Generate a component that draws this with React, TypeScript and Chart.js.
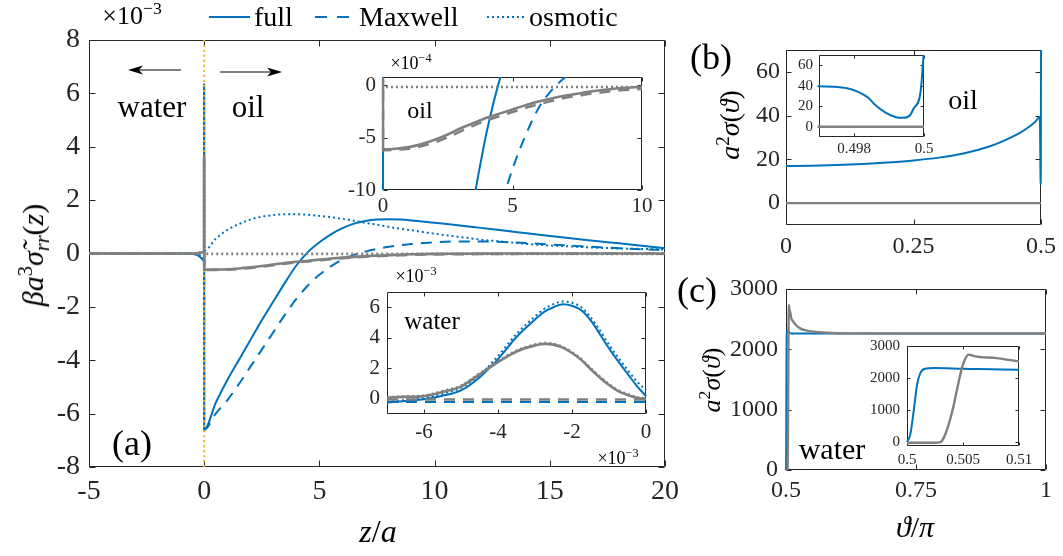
import React, { useEffect, useRef } from "react";
import { Chart, registerables } from "chart.js";

Chart.register(...registerables);

const SERIF = '"Liberation Serif", "Times New Roman", serif';
const BLUE = "#0072BD";
const GRAY = "#808080";
const ORANGE = "#EDB120";
const AXIS = "#262626";
const TEXT = "#000000";
const DASHED = [11, 8];
const DOTTED = [2, 3];

// ---------------- panel (a): z/a, values in units of 1e-3 ----------------
const aXTicks = [-5, 0, 5, 10, 15, 20];
const aYTicks = [-8, -6, -4, -2, 0, 2, 4, 6, 8];
const aXRange = [-5, 20];
const aYRange = [-8, 8];
const interfaceZ = [0, 0];

// water side far from the interface (z/a)
const farWaterZ = [-5, -1, -0.5, -0.3, -0.15, -0.05];
const farWaterFull = [0, 0, -0.02, -0.06, -0.15, -0.25];
const farWaterMaxwell = [0, 0, -0.02, -0.05, -0.12, -0.2];
const farWaterOsmotic = [0, 0, -0.01, -0.03, -0.08, -0.15];
const farWaterGrayFull = [0, 0, 0, 0.01, 0.03, 0.05];
const farWaterGrayMaxwell = [0, 0, 0, -0.01, -0.03, -0.04];
const farWaterGrayOsmotic = [0, 0, 0, 0.02, 0.05, 0.08];

// water side close to the interface, z/a in units of 1e-3
const WATER_Z_UNIT = 1e-3;
const waterZ = [-7, -6.5, -6, -5.5, -5, -4.5, -4, -3.5, -3, -2.75, -2.5, -2.25, -2, -1.75, -1.5, -1.25, -1, -0.75, -0.5, -0.25, 0];
const waterFull = [-0.26, -0.15, -0.04, 0.2, 0.55, 1.4, 2.6, 4.05, 5.2, 5.7, 6.0, 6.2, 6.1, 5.8, 5.15, 4.25, 3.3, 2.45, 1.65, 0.85, 0.17];
const waterMaxwell = [-0.22, -0.22, -0.22, -0.22, -0.22, -0.22, -0.22, -0.22, -0.22, -0.22, -0.22, -0.22, -0.22, -0.22, -0.22, -0.22, -0.22, -0.22, -0.22, -0.22, -0.22];
const waterOsmotic = [-0.2, -0.08, 0.05, 0.32, 0.72, 1.55, 2.8, 4.25, 5.4, 5.9, 6.2, 6.38, 6.3, 6.0, 5.35, 4.5, 3.55, 2.7, 1.9, 1.15, 0.55];
const waterGrayFull = [0.07, 0.12, 0.17, 0.45, 0.8, 1.6, 2.4, 3.1, 3.5, 3.6, 3.55, 3.35, 3.0, 2.55, 1.95, 1.4, 0.9, 0.5, 0.25, 0.07, 0.0];
const waterGrayMaxwell = [-0.05, -0.05, -0.05, -0.05, -0.05, -0.05, -0.05, -0.05, -0.05, -0.05, -0.05, -0.05, -0.05, -0.05, -0.05, -0.05, -0.05, -0.05, -0.05, -0.05, -0.05];
const waterGrayOsmotic = [0.1, 0.15, 0.2, 0.5, 0.85, 1.65, 2.45, 3.15, 3.55, 3.65, 3.6, 3.4, 3.05, 2.6, 2.0, 1.45, 0.95, 0.55, 0.3, 0.1, 0.02];

// oil side (z/a)
const oilZ = [0, 0.5, 1, 1.5, 2, 2.5, 3, 3.5, 4, 4.5, 5, 5.5, 6, 6.5, 7, 7.5, 8, 8.5, 9, 10, 11, 12, 13, 14, 15, 16, 17, 18, 19, 20];
const oilFull = [-6.6, -5.6, -4.75, -4.0, -3.25, -2.5, -1.8, -1.1, -0.45, 0.05, 0.42, 0.72, 0.95, 1.12, 1.22, 1.27, 1.28, 1.27, 1.24, 1.15, 1.06, 0.96, 0.86, 0.76, 0.66, 0.56, 0.47, 0.38, 0.29, 0.2];
const oilMaxwell = [-6.6, -6.0, -5.5, -4.9, -4.25, -3.6, -2.95, -2.3, -1.7, -1.2, -0.8, -0.48, -0.22, -0.05, 0.07, 0.17, 0.25, 0.31, 0.36, 0.42, 0.45, 0.45, 0.43, 0.39, 0.34, 0.29, 0.24, 0.2, 0.16, 0.13];
const oilOsmotic = [0.1, 0.55, 0.88, 1.1, 1.27, 1.38, 1.44, 1.47, 1.47, 1.45, 1.41, 1.36, 1.3, 1.23, 1.15, 1.08, 1.0, 0.93, 0.87, 0.74, 0.63, 0.52, 0.44, 0.36, 0.3, 0.26, 0.22, 0.19, 0.17, 0.15];
const oilGrayFull = [-0.61, -0.605, -0.59, -0.56, -0.52, -0.47, -0.41, -0.36, -0.31, -0.27, -0.23, -0.19, -0.155, -0.125, -0.1, -0.08, -0.06, -0.045, -0.03, -0.015, -0.01, -0.005, 0, 0, 0, 0, 0, 0, 0, 0];
const oilGrayMaxwell = [-0.62, -0.615, -0.605, -0.58, -0.545, -0.495, -0.44, -0.385, -0.335, -0.295, -0.255, -0.215, -0.18, -0.15, -0.12, -0.1, -0.08, -0.065, -0.05, -0.035, -0.025, -0.02, -0.015, -0.01, -0.01, -0.005, 0, 0, 0, 0];
const oilGrayOsmotic = [-0.015, -0.015, -0.015, -0.015, -0.015, -0.015, -0.015, -0.015, -0.015, -0.015, -0.015, -0.015, -0.015, -0.015, -0.015, -0.015, -0.015, -0.015, -0.015, -0.015, -0.015, -0.015, -0.015, -0.015, -0.015, -0.015, -0.015, -0.015, -0.015, -0.015];

// oil inset: units of 1e-4
const OIL_INSET_SCALE = 10;
const oilInsetXTicks = [0, 5, 10];
const oilInsetYTicks = [-10, -5, 0];
const oilInsetXRange = [0, 10];
const oilInsetYRange = [-10, 0.8];

// water inset: x in 1e-3, y in 1e-3
const waterInsetXTicks = [-6, -4, -2, 0];
const waterInsetYTicks = [0, 2, 4, 6];
const waterInsetXRange = [-7, 0];
const waterInsetYRange = [-1, 7];

const legendLabels = ["full", "Maxwell", "osmotic"];

// ---------------- panel (b): oil, a^2 sigma(theta) ----------------
const bTheta = [0, 0.05, 0.1, 0.15, 0.2, 0.25, 0.3, 0.35, 0.4, 0.43, 0.46, 0.48, 0.49, 0.497, 0.4974, 0.4978, 0.4981, 0.4984, 0.4986, 0.4989, 0.4992, 0.4994, 0.4996, 0.4997, 0.4999, 0.5];
const bFull = [17.0, 17.1, 17.4, 17.9, 18.6, 19.5, 20.8, 22.8, 26, 28.8, 32.3, 35.5, 37.5, 39.5, 39.1, 37.5, 34.3, 28.5, 21.5, 13.8, 9.3, 8.7, 11.2, 17.6, 33.7, 75];
const bGrayTheta = [0, 0.25, 0.5];
const bGray = [0, 0, 0];
const bXTicks = [0, 0.25, 0.5];
const bYTicks = [0, 20, 40, 60];
const bXRange = [0, 0.5];
const bYRange = [-10, 70];
const bInsetXTicks = [0.498, 0.5];
const bInsetYTicks = [0, 20, 40, 60];
const bInsetXRange = [0.497, 0.5];
const bInsetYRange = [-10, 70];

// ---------------- panel (c): water, a^2 sigma(theta) ----------------
const cTheta = [0.5, 0.5003, 0.5006, 0.5009, 0.5012, 0.5016, 0.5024, 0.505, 0.51, 0.55, 0.6, 0.75, 1];
const cFull = [0, 250, 980, 1800, 2160, 2290, 2312, 2292, 2262, 2262, 2262, 2262, 2262];
const cGrayTheta = [0.5, 0.5025, 0.503, 0.5033, 0.5036, 0.5039, 0.5042, 0.5045, 0.5049, 0.5052, 0.5055, 0.5058, 0.506, 0.508, 0.51, 0.514, 0.52, 0.527, 0.54, 0.552, 0.58, 0.616, 0.75, 1];
const cGray = [-20, -20, 0, 150, 420, 770, 1200, 1700, 2310, 2600, 2730, 2710, 2685, 2620, 2520, 2460, 2395, 2348, 2310, 2293, 2275, 2265, 2262, 2262];
const cXTicks = [0.5, 0.75, 1];
const cYTicks = [0, 1000, 2000, 3000];
const cXRange = [0.5, 1];
const cYRange = [0, 3000];
const cInsetXTicks = [0.5, 0.505, 0.51];
const cInsetYTicks = [0, 1000, 2000, 3000];
const cInsetXRange = [0.5, 0.51];
const cInsetYRange = [-120, 3000];

// ---------------- helpers ----------------
type P = { x: number; y: number };
const pts = (xs: number[], ys: number[], xs_ = 1, ys_ = 1): P[] =>
  xs.map((x, i) => ({ x: x * xs_, y: ys[i] * ys_ }));

const joined = (far: number[], water: number[], oil: number[], ys = 1): P[] => [
  ...pts(farWaterZ, far, 1, ys),
  ...pts(waterZ, water, WATER_Z_UNIT, ys),
  ...pts(oilZ, oil, 1, ys),
];

const line = (label: string, data: P[], color: string, width: number, dash: number[], order: number) => ({
  label,
  data,
  borderColor: color,
  backgroundColor: color,
  borderWidth: width,
  borderDash: dash,
  borderCapStyle: "butt",
  borderJoinStyle: "round",
  pointRadius: 0,
  fill: false,
  cubicInterpolationMode: "monotone",
  clip: { left: 1.5, right: 1.5, top: 0, bottom: 0 },
  order,
});

const sixSeries = (full: P[], max: P[], osm: P[], gFull: P[], gMax: P[], gOsm: P[], bw = 2, gw = 2.6) => [
  line("full", full, BLUE, bw, [], 5),
  line("Maxwell", max, BLUE, bw, DASHED, 6),
  line("osmotic", osm, BLUE, bw, DOTTED, 7),
  line("full (gray)", gFull, GRAY, gw, [], 1),
  line("Maxwell (gray)", gMax, GRAY, gw, DASHED, 2),
  line("osmotic (gray)", gOsm, GRAY, gw, DOTTED, 3),
];

const framePlugin = (tickLen: number) => ({
  id: "frame",
  beforeDatasetsDraw(chart: any) {
    const { ctx, chartArea: a, scales } = chart;
    ctx.save();
    ctx.fillStyle = "#ffffff";
    ctx.fillRect(a.left, a.top, a.right - a.left, a.bottom - a.top);
    const L = Math.round(a.left) + 0.5, R = Math.round(a.right) - 0.5;
    const T = Math.round(a.top) + 0.5, B = Math.round(a.bottom) - 0.5;
    ctx.strokeStyle = AXIS;
    ctx.lineWidth = 1;
    ctx.setLineDash([]);
    ctx.beginPath();
    ctx.rect(L, T, R - L, B - T);
    scales.x.ticks.forEach((t: any) => {
      const px = Math.round(scales.x.getPixelForValue(t.value)) + 0.5;
      ctx.moveTo(px, B); ctx.lineTo(px, B - tickLen);
      ctx.moveTo(px, T); ctx.lineTo(px, T + tickLen);
    });
    scales.y.ticks.forEach((t: any) => {
      const py = Math.round(scales.y.getPixelForValue(t.value)) + 0.5;
      ctx.moveTo(L, py); ctx.lineTo(L + tickLen, py);
      ctx.moveTo(R, py); ctx.lineTo(R - tickLen, py);
    });
    ctx.stroke();
    ctx.restore();
  },
});

const arrow = (ctx: CanvasRenderingContext2D, x0: number, y0: number, x1: number, y1: number) => {
  const dir = Math.sign(x1 - x0);
  ctx.beginPath();
  ctx.moveTo(x0, y0);
  ctx.lineTo(x1 - dir * 8, y1);
  ctx.stroke();
  ctx.beginPath();
  ctx.moveTo(x1, y1);
  ctx.lineTo(x1 - dir * 15, y1 - 4.5);
  ctx.lineTo(x1 - dir * 11, y1);
  ctx.lineTo(x1 - dir * 15, y1 + 4.5);
  ctx.closePath();
  ctx.fill();
};

const mainDecor = {
  id: "mainDecor",
  afterDraw(chart: any) {
    const ctx: CanvasRenderingContext2D = chart.ctx;
    ctx.save();
    ctx.strokeStyle = TEXT;
    ctx.fillStyle = TEXT;
    ctx.lineWidth = 1.2;
    arrow(ctx, 181, 70, 128, 70);
    arrow(ctx, 220, 72, 282, 72);
    // legend
    const styles = [
      { dash: [] as number[], x0: 209, x1: 250, tx: 254 },
      { dash: [12, 10], x0: 315, x1: 349, tx: 359 },
      { dash: DOTTED, x0: 487, x1: 526, tx: 529 },
    ];
    styles.forEach((s, i) => {
      ctx.strokeStyle = BLUE;
      ctx.lineWidth = 2;
      ctx.setLineDash(s.dash);
      ctx.beginPath();
      ctx.moveTo(s.x0, 17);
      ctx.lineTo(s.x1, 17);
      ctx.stroke();
      ctx.setLineDash([]);
      ctx.fillStyle = TEXT;
      ctx.font = `28px ${SERIF}`;
      ctx.textBaseline = "alphabetic";
      ctx.textAlign = "left";
      ctx.fillText(legendLabels[i], s.tx, 26);
    });
    ctx.restore();
  },
};

type Spec = {
  left: number; top: number; width: number; height: number;
  area: { l: number; t: number; r: number; b: number };
  datasets: any[];
  xRange: number[]; yRange: number[];
  xTicks: number[]; yTicks: number[];
  tickSize: number; xPad: number; yPad: number; tickLen: number;
  extra?: any;
};

function buildConfig(s: Spec): any {
  const padTop = s.area.t - s.top;
  const padRight = s.left + s.width - s.area.r;
  const yWidth = s.area.l - s.left;
  const xHeight = s.top + s.height - s.area.b;
  const font = { family: SERIF, size: s.tickSize };
  return {
    type: "line",
    data: { datasets: s.datasets },
    options: {
      animation: false,
      responsive: false,
      maintainAspectRatio: false,
      devicePixelRatio: 1,
      events: [],
      layout: { padding: { top: padTop, right: padRight, left: 0, bottom: 0 }, autoPadding: false },
      plugins: { legend: { display: false }, tooltip: { enabled: false }, title: { display: false } },
      scales: {
        x: {
          type: "linear",
          position: "bottom",
          min: s.xRange[0],
          max: s.xRange[1],
          grid: { display: false, drawTicks: false, tickLength: 0 },
          border: { display: false },
          ticks: { font, color: AXIS, padding: s.xPad, maxRotation: 0, autoSkip: false, callback: (v: any) => String(v) },
          afterBuildTicks: (sc: any) => { sc.ticks = s.xTicks.map((v) => ({ value: v })); },
          afterFit: (sc: any) => { sc.height = xHeight; },
        },
        y: {
          type: "linear",
          position: "left",
          min: s.yRange[0],
          max: s.yRange[1],
          grid: { display: false, drawTicks: false, tickLength: 0 },
          border: { display: false },
          ticks: { font, color: AXIS, padding: s.yPad, autoSkip: false, callback: (v: any) => String(v) },
          afterBuildTicks: (sc: any) => { sc.ticks = s.yTicks.map((v) => ({ value: v })); },
          afterFit: (sc: any) => { sc.width = yWidth; },
        },
      },
    },
    plugins: [framePlugin(s.tickLen), ...(s.extra ? [s.extra] : [])],
  };
}

function ChartBox({ spec }: { spec: Spec }) {
  const ref = useRef<HTMLCanvasElement>(null);
  useEffect(() => {
    const chart = new Chart(ref.current as HTMLCanvasElement, buildConfig(spec));
    return () => chart.destroy();
  }, []);
  return (
    <canvas
      ref={ref}
      width={spec.width}
      height={spec.height}
      style={{ position: "absolute", left: spec.left, top: spec.top, width: spec.width, height: spec.height }}
    />
  );
}

const Sup = ({ children }: any) => (
  <span style={{ fontSize: "0.68em", position: "relative", top: "-0.55em" }}>{children}</span>
);
const Sub = ({ children }: any) => (
  <span style={{ fontSize: "0.68em", position: "relative", top: "0.3em" }}>{children}</span>
);

const Txt = ({ x, y, size, rot, children }: any) => (
  <div
    style={{
      position: "absolute",
      left: x,
      top: y,
      transform: `translate(-50%, -50%)${rot ? " rotate(-90deg)" : ""}`,
      fontFamily: SERIF,
      fontSize: size,
      lineHeight: 1,
      whiteSpace: "nowrap",
      color: TEXT,
    }}
  >
    {children}
  </div>
);

export default function App() {
  const mainSpec: Spec = {
    left: 0, top: 0, width: 700, height: 556,
    area: { l: 89, t: 40, r: 665, b: 467 },
    datasets: [
      ...sixSeries(
        joined(farWaterFull, waterFull, oilFull),
        joined(farWaterMaxwell, waterMaxwell, oilMaxwell),
        joined(farWaterOsmotic, waterOsmotic, oilOsmotic),
        joined(farWaterGrayFull, waterGrayFull, oilGrayFull),
        joined(farWaterGrayMaxwell, waterGrayMaxwell, oilGrayMaxwell),
        joined(farWaterGrayOsmotic, waterGrayOsmotic, oilGrayOsmotic)
      ),
      line("interface", pts(interfaceZ, aYRange), ORANGE, 2, DOTTED, 4),
    ],
    xRange: aXRange, yRange: aYRange, xTicks: aXTicks, yTicks: aYTicks,
    tickSize: 28, xPad: 8, yPad: 9, tickLen: 6, extra: mainDecor,
  };

  const oilInsetSpec: Spec = {
    left: 330, top: 50, width: 330, height: 170,
    area: { l: 383, t: 77, r: 642, b: 190 },
    datasets: sixSeries(
      joined(farWaterFull, waterFull, oilFull, OIL_INSET_SCALE),
      joined(farWaterMaxwell, waterMaxwell, oilMaxwell, OIL_INSET_SCALE),
      joined(farWaterOsmotic, waterOsmotic, oilOsmotic, OIL_INSET_SCALE),
      joined(farWaterGrayFull, waterGrayFull, oilGrayFull, OIL_INSET_SCALE),
      joined(farWaterGrayMaxwell, waterGrayMaxwell, oilGrayMaxwell, OIL_INSET_SCALE),
      joined(farWaterGrayOsmotic, waterGrayOsmotic, oilGrayOsmotic, OIL_INSET_SCALE)
    ),
    xRange: oilInsetXRange, yRange: oilInsetYRange, xTicks: oilInsetXTicks, yTicks: oilInsetYTicks,
    tickSize: 21, xPad: 4, yPad: 7, tickLen: 4,
  };

  const waterInsetSpec: Spec = {
    left: 330, top: 270, width: 330, height: 175,
    area: { l: 387, t: 292, r: 646, b: 414 },
    datasets: sixSeries(
      pts(waterZ, waterFull),
      pts(waterZ, waterMaxwell),
      pts(waterZ, waterOsmotic),
      pts(waterZ, waterGrayFull),
      pts(waterZ, waterGrayMaxwell),
      pts(waterZ, waterGrayOsmotic)
    ),
    xRange: waterInsetXRange, yRange: waterInsetYRange, xTicks: waterInsetXTicks, yTicks: waterInsetYTicks,
    tickSize: 21, xPad: 6, yPad: 7, tickLen: 4,
  };

  const bSpec: Spec = {
    left: 700, top: 0, width: 363, height: 260,
    area: { l: 786, t: 50, r: 1042, b: 225 },
    datasets: [
      line("full", pts(bTheta, bFull), BLUE, 2, [], 2),
      line("gray", pts(bGrayTheta, bGray), GRAY, 2.4, [], 1),
    ],
    xRange: bXRange, yRange: bYRange, xTicks: bXTicks, yTicks: bYTicks,
    tickSize: 24, xPad: 7, yPad: 6, tickLen: 5,
  };

  const bInsetSpec: Spec = {
    left: 790, top: 40, width: 150, height: 120,
    area: { l: 819, t: 53, r: 924, b: 137 },
    datasets: [
      line("full", pts(bTheta, bFull), BLUE, 2, [], 2),
      line("gray", pts(bGrayTheta, bGray), GRAY, 2.4, [], 1),
    ],
    xRange: bInsetXRange, yRange: bInsetYRange, xTicks: bInsetXTicks, yTicks: bInsetYTicks,
    tickSize: 15, xPad: 3, yPad: 6, tickLen: 3,
  };

  const cSpec: Spec = {
    left: 700, top: 260, width: 363, height: 296,
    area: { l: 786, t: 289, r: 1046, b: 470 },
    datasets: [
      line("full", pts(cTheta, cFull), BLUE, 2, [], 2),
      line("gray", pts(cGrayTheta, cGray), GRAY, 2.4, [], 1),
    ],
    xRange: cXRange, yRange: cYRange, xTicks: cXTicks, yTicks: cYTicks,
    tickSize: 24, xPad: 6, yPad: 8, tickLen: 5,
  };

  const cInsetSpec: Spec = {
    left: 860, top: 330, width: 182, height: 140,
    area: { l: 907, t: 344, r: 1019, b: 446 },
    datasets: [
      line("full", pts(cTheta, cFull), BLUE, 2, [], 2),
      line("gray", pts(cGrayTheta, cGray), GRAY, 2.4, [], 1),
    ],
    xRange: cInsetXRange, yRange: cInsetYRange, xTicks: cInsetXTicks, yTicks: cInsetYTicks,
    tickSize: 15, xPad: 5, yPad: 7, tickLen: 3,
  };

  return (
    <div style={{ position: "fixed", left: 0, top: 0, width: 1063, height: 556, background: "#fff", overflow: "hidden" }}>
      <ChartBox spec={mainSpec} />
      <ChartBox spec={bSpec} />
      <ChartBox spec={cSpec} />
      <ChartBox spec={oilInsetSpec} />
      <ChartBox spec={waterInsetSpec} />
      <ChartBox spec={bInsetSpec} />
      <ChartBox spec={cInsetSpec} />

      {/* panel (a) texts */}
      <Txt x={132} y={16} size={26}>×10<Sup>−3</Sup></Txt>
      <Txt x={152} y={106} size={31}>water</Txt>
      <Txt x={248} y={106} size={31}>oil</Txt>
      <Txt x={132} y={443} size={36}>(a)</Txt>
      <Txt x={378} y={531} size={32}><i>z</i>/<i>a</i></Txt>
      <Txt x={33} y={255} size={30} rot>
        <i>βa</i><Sup>3</Sup><i>σ̃</i><Sub><i>rr</i></Sub>(<i>z</i>)
      </Txt>
      <Txt x={411} y={63} size={18}>×10<Sup>−4</Sup></Txt>
      <Txt x={420} y={110} size={24}>oil</Txt>
      <Txt x={416} y={276} size={18}>×10<Sup>−3</Sup></Txt>
      <Txt x={432} y={320} size={25}>water</Txt>
      <Txt x={618} y={458} size={18}>×10<Sup>−3</Sup></Txt>

      {/* panel (b) texts */}
      <Txt x={711} y={57} size={36}>(b)</Txt>
      <Txt x={730} y={125} size={28} rot><i>a</i><Sup>2</Sup><i>σ</i>(<i>ϑ</i>)</Txt>
      <Txt x={963} y={100} size={28}>oil</Txt>

      {/* panel (c) texts */}
      <Txt x={697} y={290} size={36}>(c)</Txt>
      <Txt x={712} y={380} size={26} rot><i>a</i><Sup>2</Sup><i>σ</i>(<i>ϑ</i>)</Txt>
      <Txt x={832} y={449} size={30}>water</Txt>
      <Txt x={915} y={527} size={30}><i>ϑ</i>/<i>π</i></Txt>
    </div>
  );
}
